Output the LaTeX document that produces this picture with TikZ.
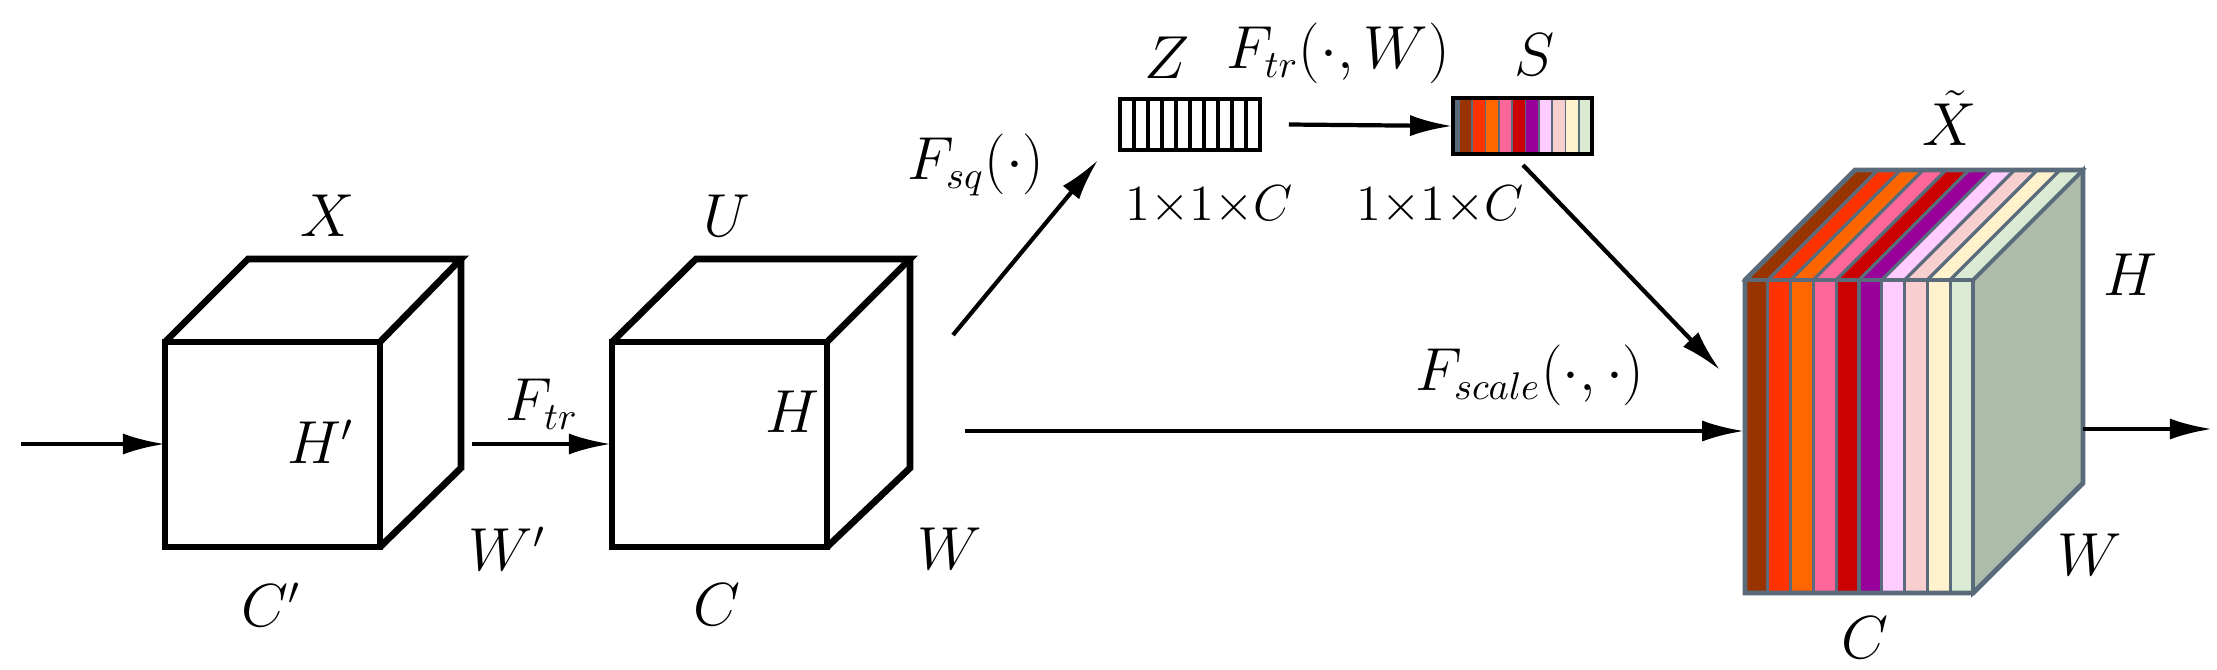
\documentclass[tikz,border=0pt]{standalone}
\usepackage{amsmath,amssymb}
\usetikzlibrary{positioning,arrows.meta}
\definecolor{cA}{HTML}{993300}
\definecolor{cB}{HTML}{FF3300}
\definecolor{cC}{HTML}{FF6600}
\definecolor{cD}{HTML}{FF6699}
\definecolor{cE}{HTML}{CC0000}
\definecolor{cF}{HTML}{990099}
\definecolor{cG}{HTML}{FFCCFF}
\definecolor{cH}{HTML}{F8CFCF}
\definecolor{cI}{HTML}{FFF2CC}
\definecolor{cJ}{HTML}{DAEAD3}
\definecolor{cK}{HTML}{AEBDA9}
\definecolor{edge}{HTML}{5A6B7B}
\tikzstyle{cube} = [line width=1.9pt,line join=miter]
\tikzstyle{arrow} = [line width=1.2pt,-{Latex[length=12pt,width=6pt]}]
\tikzstyle{lbl} = [inner sep=1pt,font=\fontsize{16}{19}\selectfont]
\tikzstyle{small} = [inner sep=1pt,font=\fontsize{14}{17}\selectfont]
\begin{document}
\begin{tikzpicture}[x=0.01cm,y=-0.01cm]
    \useasboundingbox (0,0) rectangle (2217,669);
    % input cube X
    \draw [cube] (165,342) rectangle (380,547);
    \draw [cube] (165,342) -- (248,259) -- (461,259) -- (380,342);
    \draw [cube] (461,259) -- (461,468) -- (380,547);
    % cube U
    \draw [cube] (612,342) rectangle (827,547);
    \draw [cube] (612,342) -- (696,259) -- (910,259) -- (827,342);
    \draw [cube] (910,259) -- (910,468) -- (827,547);
    \node [lbl] (x) at (328,216) {$X$};
    \node [lbl] (hp) at (321,442) {$H'$};
    \node [lbl] (wp) at (507,549) {$W'$};
    \node [lbl] (cp) at (271,605) {$C'$};
    \node [lbl] (u) at (727,216) {$U$};
    \node [lbl] (h1) at (792,412) {$H$};
    \node [lbl] (w1) at (950,549) {$W$};
    \node [lbl] (c1) at (717,605) {$C$};
    \node [lbl] at (542,404) {$F_{tr}$};

    % Z vector
    \foreach \i in {0,...,9}
      \draw [line width=1.1pt] (1120+14*\i,99) rectangle ++(14,51);
    \node [inner sep=0,minimum width=1.4cm,minimum height=0.51cm] (z) at (1190,124.5) {};
    \node [lbl] at (1167,58) {$Z$};
    \node [small] at (1209,205) {$1{\times}1{\times}C$};
    \node [lbl] at (1338,53) {$F_{tr}(\cdot,W)$};
    \node [lbl] at (976,165) {$F_{sq}(\cdot)$};
    % S vector
    \fill [edge] (1453,98) rectangle ++(6,56);
    \foreach \c [count=\i from 0] in {cA,cB,cC,cD,cE,cF,cG,cH,cI,cJ}
      \fill [\c] (1459+13.3*\i,98) rectangle ++(13.3,56);
    \foreach \i in {0,...,9}
      \draw [edge,line width=0.5pt] (1459+13.3*\i,98) -- ++(0,56);
    \draw [line width=1.3pt] (1453,98) rectangle (1592,154);
    \node [inner sep=0,minimum width=1.39cm,minimum height=0.56cm] (s) at (1522.5,126) {};
    \node [lbl] at (1535,55) {$S$};
    \node [small] at (1440,205) {$1{\times}1{\times}C$};

    % output stack
    \foreach \c [count=\i from 0] in {cA,cB,cC,cD,cE,cF,cG,cH,cI,cJ} {
      \fill [\c,draw=edge,line width=0.9pt] (1745+22.8*\i,280) -- ++(110,-110) -- ++(22.8,0) -- ++(-110,110) -- cycle;
      \fill [\c,draw=edge,line width=0.9pt] (1745+22.8*\i,280) rectangle ++(22.8,313);
    }
    \fill [cK,draw=edge,line width=1.1pt] (1973,280) -- (2083,170) -- (2083,483) -- (1973,593) -- cycle;
    \draw [edge,line width=1.4pt] (1745,280) -- (1855,170) -- (2083,170) -- (2083,483) -- (1973,593) -- (1745,593) -- cycle;
    \node [inner sep=0,minimum width=2.28cm,minimum height=3.13cm] (xt) at (1859,436.5) {};
    \node [lbl] at (1950,118) {$\tilde{X}$};
    \node [lbl] at (2130,275) {$H$};
    \node [lbl] at (2090,555) {$W$};
    \node [lbl] at (1865,638) {$C$};
    \node [lbl] at (1530,375) {$F_{scale}(\cdot,\cdot)$};

    % connectors
    \coordinate (in) at (21,444);
    \coordinate (xl) at (165,444);
    \coordinate (xr) at (472,444);
    \coordinate (ul) at (611,444);
    \coordinate (ur) at (953,335);
    \coordinate (zl) at (1098,160);
    \coordinate (um) at (965,431);
    \coordinate (sb) at (1523,165);
    \coordinate (xtop) at (1720,370);
    \coordinate (xtr) at (2083,429);
    \coordinate (out) at (2212,429);
    \draw [arrow] (in) -- (xl);
    \draw [arrow] (xr) -- (ul);
    \draw [arrow] (ur) -- (zl);
    \draw [arrow] ([xshift=8]z.east) -- (s.west);
    \draw [arrow] (sb) -- (xtop);
    \draw [arrow] (um) -- (xt.west |- um);
    \draw [arrow] (xtr) -- (out);
\end{tikzpicture}
\end{document}
